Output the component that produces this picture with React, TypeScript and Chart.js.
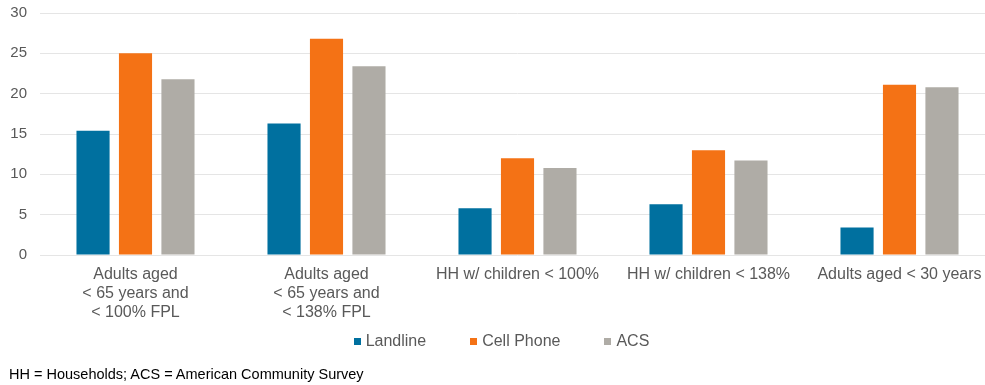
import React, { useEffect, useRef } from "react";
import { Chart, registerables } from "chart.js";

Chart.register(...registerables);

const categories: (string | string[])[] = [
  ["Adults aged", "< 65 years and", "< 100% FPL"],
  ["Adults aged", "< 65 years and", "< 138% FPL"],
  "HH w/ children < 100%",
  "HH w/ children < 138%",
  "Adults aged < 30 years",
];

const seriesNames = ["Landline", "Cell Phone", "ACS"];
const seriesColors = ["#00709f", "#f47215", "#afaca6"];

const landline = [15.4, 16.3, 5.8, 6.3, 3.4];
const cellPhone = [25.0, 26.8, 12.0, 13.0, 21.1];
const acs = [21.8, 23.4, 10.8, 11.7, 20.8];

const yTicks = [0, 5, 10, 15, 20, 25, 30];

const footnote = "HH = Households; ACS = American Community Survey";

const FONT = "'Liberation Sans', Arial, sans-serif";
const TEXT = "#595959";

export default function App() {
  const canvasRef = useRef<HTMLCanvasElement | null>(null);

  useEffect(() => {
    const canvas = canvasRef.current;
    if (!canvas) return;
    const values = [landline, cellPhone, acs];
    const chart = new Chart(canvas, {
      type: "bar",
      data: {
        labels: categories,
        datasets: seriesNames.map((name, i) => ({
          label: name,
          data: values[i],
          backgroundColor: seriesColors[i],
        })),
      },
      options: {
        responsive: false,
        animation: false,
        devicePixelRatio: 1,
        layout: { padding: { left: 9, right: 8, top: 0, bottom: 62 } },
        datasets: {
          bar: { categoryPercentage: 0.667, barPercentage: 0.78 },
        },
        scales: {
          x: {
            grid: { display: false, drawTicks: false },
            border: { display: false },
            afterFit: (scale: any) => {
              scale.height = 68;
            },
            ticks: {
              color: TEXT,
              font: { family: FONT, size: 16, lineHeight: 1.2 },
              maxRotation: 0,
              autoSkip: false,
              padding: 10,
            },
          },
          y: {
            min: 0,
            max: 30,
            afterBuildTicks: (axis: any) => {
              axis.ticks = yTicks.map((v) => ({ value: v }));
            },
            afterFit: (scale: any) => {
              scale.width = 31;
            },
            grid: { color: "#e5e5e5", lineWidth: 1, drawTicks: false },
            border: { display: false },
            ticks: {
              color: TEXT,
              font: { family: FONT, size: 15, lineHeight: 0 },
              padding: 13,
            },
          },
        },
        plugins: {
          legend: { display: false },
          tooltip: { enabled: false },
        },
      },
    });
    return () => chart.destroy();
  }, []);

  return (
    <div
      style={{
        position: "fixed",
        left: 0,
        top: 0,
        width: 985,
        height: 385,
        overflow: "hidden",
        background: "#ffffff",
      }}
    >
      <canvas ref={canvasRef} width={1003} height={385} style={{ display: "block" }} />
      <div
        style={{
          position: "absolute",
          left: 0,
          width: 1003,
          top: 331,
          height: 20,
          display: "flex",
          justifyContent: "center",
          alignItems: "center",
          gap: 44,
          fontFamily: FONT,
          fontSize: 16,
          color: TEXT,
        }}
      >
        {seriesNames.map((name, i) => (
          <div key={name} style={{ display: "flex", alignItems: "center" }}>
            <span
              style={{
                display: "inline-block",
                width: 7,
                height: 7,
                background: seriesColors[i],
                marginRight: 5,
              }}
            />
            <span>{name}</span>
          </div>
        ))}
      </div>
      <div
        style={{
          position: "absolute",
          left: 9,
          top: 366,
          fontFamily: FONT,
          fontSize: 14.5,
          color: "#000000",
          whiteSpace: "nowrap",
        }}
      >
        {footnote}
      </div>
    </div>
  );
}
